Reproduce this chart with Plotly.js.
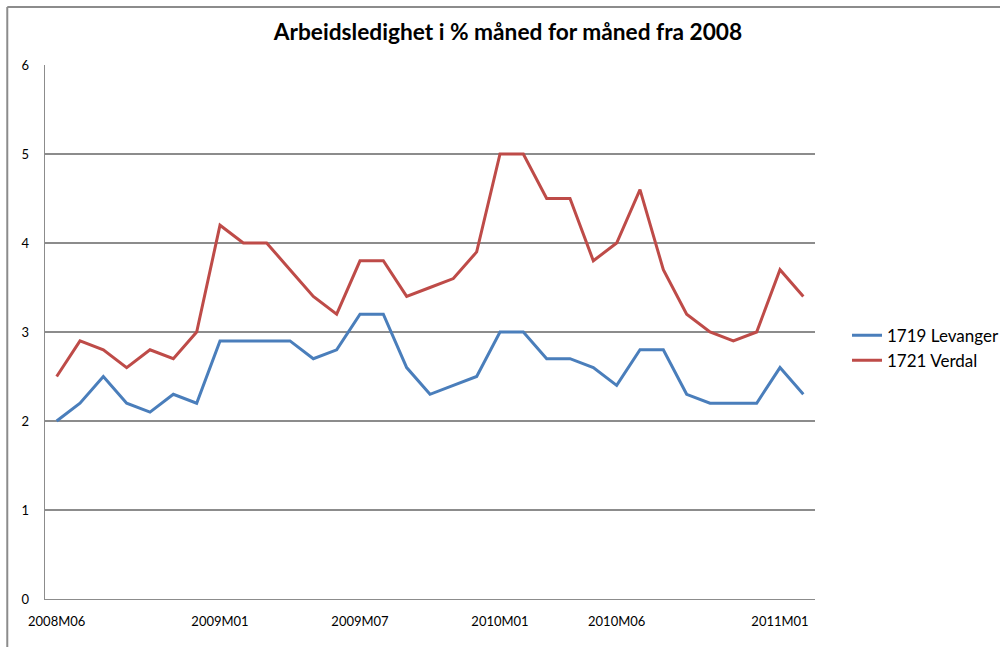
<!DOCTYPE html>
<html>
<head>
<meta charset="utf-8">
<script src="https://cdn.plot.ly/plotly-3.0.1.min.js"></script>
<style>html,body{margin:0;padding:0;background:#fff;}#chart{width:1000px;height:647px;}</style>
</head>
<body>
<div id="chart"></div>
<script>
const months = ["2008M06","2008M07","2008M08","2008M09","2008M10","2008M11","2008M12",
"2009M01","2009M02","2009M03","2009M04","2009M05","2009M06","2009M07","2009M08","2009M09","2009M10","2009M11","2009M12",
"2010M01","2010M02","2010M03","2010M04","2010M05","2010M06","2010M07","2010M08","2010M09","2010M10","2010M11","2010M12",
"2011M01","2011M02"];
const levanger = [2.0,2.2,2.5,2.2,2.1,2.3,2.2,2.9,2.9,2.9,2.9,2.7,2.8,3.2,3.2,2.6,2.3,2.4,2.5,3.0,3.0,2.7,2.7,2.6,2.4,2.8,2.8,2.3,2.2,2.2,2.2,2.6,2.3];
const verdal = [2.5,2.9,2.8,2.6,2.8,2.7,3.0,4.2,4.0,4.0,3.7,3.4,3.2,3.8,3.8,3.4,3.5,3.6,3.9,5.0,5.0,4.5,4.5,3.8,4.0,4.6,3.7,3.2,3.0,2.9,3.0,3.7,3.4];
const tickLabels = ["2008M06","2009M01","2009M07","2010M01","2010M06","2011M01"];
const seriesNames = ["1719 Levanger","1721 Verdal"];

const font = "Lato, 'Open Sans', 'Liberation Sans', sans-serif";
const data = [
  {x: months, y: levanger, name: seriesNames[0], type: 'scatter', mode: 'lines',
   line: {color: '#4A7EBB', width: 3}},
  {x: months, y: verdal, name: seriesNames[1], type: 'scatter', mode: 'lines',
   line: {color: '#BE4B48', width: 3}}
];
const layout = {
  width: 1000, height: 647,
  margin: {l: 45, r: 185, t: 65, b: 48, autoexpand: false},
  paper_bgcolor: '#fff', plot_bgcolor: '#fff',
  font: {family: font, size: 13, color: '#000'},
  title: {text: '<b>Arbeidsledighet i % måned for måned fra 2008</b>', x: 0.508, xref: 'container', xanchor: 'center',
          y: 0.95, yref: 'container', yanchor: 'middle', font: {family: font, size: 22.7, color: '#000'}},
  xaxis: {type: 'category', range: [-0.5, 32.5], tickvals: tickLabels, ticktext: tickLabels,
          showgrid: false, showline: true, linecolor: '#8c8c8c', linewidth: 1, ticks: '',
          ticklabelstandoff: 10, tickfont: {size: 13, color: '#000'}, fixedrange: true},
  yaxis: {range: [0, 6], dtick: 1, showgrid: true, gridcolor: '#8c8c8c', gridwidth: 1.3,
          showline: true, linecolor: '#8c8c8c', linewidth: 1.3, ticks: '', zeroline: false,
          ticklabelstandoff: 12, tickfont: {size: 13, color: '#000'}, fixedrange: true},
  legend: {xref: 'container', yref: 'container', x: 0.847, xanchor: 'left', y: 0.462, yanchor: 'middle',
           font: {size: 17, color: '#000'}, tracegroupgap: 4, itemwidth: 30},
  shapes: [
    {type: 'line', xref: 'paper', yref: 'paper', x0: -0.049, x1: 1.3, y0: 1.1086, y1: 1.1086, line: {color: '#8c8c8c', width: 2}},
    {type: 'line', xref: 'paper', yref: 'paper', x0: -0.049, x1: -0.049, y0: -0.2, y1: 1.1086, line: {color: '#8c8c8c', width: 2}}
  ],
  showlegend: true
};
Plotly.newPlot('chart', data, layout, {displayModeBar: false, staticPlot: true});
</script>
</body>
</html>
